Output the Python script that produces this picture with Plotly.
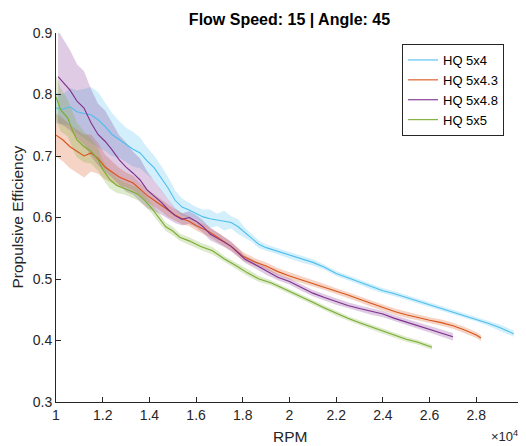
import plotly.graph_objects as go

# ---------------- data ----------------
series_names = ["HQ 5x4", "HQ 5x4.3", "HQ 5x4.8", "HQ 5x5"]

rpm_5x4 = [10000, 10300, 10600, 10900, 11200, 11500, 11800, 12100, 12400, 12700,
           13000, 13300, 13600, 13900, 14200, 14500, 14800, 15100, 15400, 15700,
           16000, 16300, 16600, 16900, 17200, 17500, 17800, 18100, 18400, 18700,
           19000, 19500, 20000, 20500, 21000, 21500, 22000, 22500, 23000, 23500,
           24000, 24500, 25000, 25500, 26000, 26500, 27000, 27500, 28000, 28500,
           29000, 29300, 29600]
eff_5x4 = [0.778, 0.776, 0.780, 0.772, 0.769, 0.767, 0.759, 0.748, 0.735, 0.727,
           0.718, 0.711, 0.705, 0.692, 0.681, 0.664, 0.648, 0.628, 0.617, 0.612,
           0.607, 0.601, 0.598, 0.596, 0.595, 0.592, 0.585, 0.575, 0.566, 0.556,
           0.551, 0.545, 0.539, 0.533, 0.527, 0.519, 0.509, 0.502, 0.495, 0.487,
           0.481, 0.476, 0.470, 0.464, 0.458, 0.453, 0.447, 0.441, 0.435, 0.428,
           0.421, 0.416, 0.411]
band_5x4 = [0.025, 0.025, 0.030, 0.035, 0.040, 0.045, 0.045, 0.040, 0.035, 0.030,
            0.028, 0.028, 0.025, 0.022, 0.020, 0.020, 0.018, 0.016, 0.014, 0.012,
            0.010, 0.012, 0.015, 0.010, 0.016, 0.010, 0.012, 0.008, 0.006, 0.006,
            0.005, 0.005, 0.005, 0.006, 0.005, 0.004, 0.004, 0.004, 0.004, 0.004,
            0.004, 0.004, 0.004, 0.004, 0.004, 0.004, 0.004, 0.004, 0.004, 0.004,
            0.005, 0.005, 0.005]

rpm_5x43 = [10000, 10300, 10600, 10900, 11200, 11500, 11800, 12100, 12400, 12700,
            13000, 13300, 13600, 13900, 14200, 14500, 14800, 15100, 15400, 15700,
            16000, 16500, 17000, 17500, 18000, 18500, 19000, 19500, 20000, 20500,
            21000, 21500, 22000, 22500, 23000, 23500, 24000, 24500, 25000, 25500,
            26000, 26500, 27000, 27500, 28000, 28200]
eff_5x43 = [0.734, 0.726, 0.715, 0.707, 0.700, 0.705, 0.696, 0.682, 0.674, 0.666,
            0.661, 0.656, 0.646, 0.636, 0.628, 0.620, 0.611, 0.604, 0.598, 0.594,
            0.587, 0.578, 0.566, 0.553, 0.537, 0.528, 0.521, 0.512, 0.505, 0.499,
            0.493, 0.487, 0.480, 0.474, 0.467, 0.460, 0.453, 0.447, 0.442, 0.437,
            0.433, 0.429, 0.424, 0.417, 0.409, 0.404]
band_5x43 = [0.035, 0.035, 0.035, 0.035, 0.035, 0.030, 0.025, 0.020, 0.018, 0.015,
             0.012, 0.012, 0.010, 0.010, 0.010, 0.010, 0.010, 0.009, 0.009, 0.008,
             0.008, 0.008, 0.008, 0.007, 0.007, 0.006, 0.006, 0.006, 0.006, 0.006,
             0.005, 0.005, 0.005, 0.005, 0.005, 0.005, 0.005, 0.005, 0.005, 0.005,
             0.005, 0.005, 0.005, 0.005, 0.005, 0.005]

rpm_5x48 = [10090, 10300, 10600, 10900, 11200, 11500, 11800, 12100, 12400, 12700,
            13000, 13300, 13600, 13900, 14200, 14500, 14800, 15100, 15400, 15700,
            16000, 16300, 16600, 16900, 17200, 17500, 17800, 18100, 18500, 19000,
            19500, 20000, 20500, 21000, 21500, 22000, 22500, 23000, 23500, 24000,
            24500, 25000, 25500, 26000, 26500, 27000]
eff_5x48 = [0.829, 0.820, 0.807, 0.789, 0.778, 0.754, 0.735, 0.724, 0.710, 0.694,
            0.682, 0.672, 0.661, 0.645, 0.635, 0.625, 0.613, 0.603, 0.597, 0.600,
            0.594, 0.585, 0.573, 0.567, 0.560, 0.553, 0.543, 0.532, 0.524, 0.513,
            0.503, 0.496, 0.486, 0.477, 0.470, 0.463, 0.457, 0.452, 0.447, 0.443,
            0.436, 0.430, 0.424, 0.418, 0.412, 0.406]
band_5x48 = [0.075, 0.070, 0.065, 0.060, 0.060, 0.055, 0.050, 0.050, 0.045, 0.040,
             0.040, 0.035, 0.035, 0.030, 0.025, 0.020, 0.015, 0.012, 0.010, 0.010,
             0.010, 0.010, 0.010, 0.009, 0.008, 0.008, 0.007, 0.006, 0.006, 0.006,
             0.005, 0.005, 0.005, 0.005, 0.005, 0.005, 0.005, 0.005, 0.005, 0.005,
             0.005, 0.005, 0.005, 0.005, 0.005, 0.006]

rpm_5x5 = [10000, 10200, 10500, 10700, 10900, 11200, 11500, 11800, 12000, 12300,
           12600, 12900, 13200, 13500, 13800, 14100, 14400, 14700, 15000, 15300,
           15700, 16200, 16700, 17200, 17700, 18200, 18700, 19200, 19600, 20000,
           20500, 21000, 21500, 22000, 22500, 23000, 23500, 24000, 24500, 25000,
           25500, 26100]
eff_5x5 = [0.796, 0.775, 0.762, 0.742, 0.726, 0.715, 0.708, 0.694, 0.678, 0.662,
           0.652, 0.648, 0.643, 0.638, 0.628, 0.615, 0.600, 0.585, 0.578, 0.568,
           0.562, 0.553, 0.546, 0.533, 0.522, 0.510, 0.500, 0.494, 0.487, 0.480,
           0.472, 0.462, 0.453, 0.444, 0.436, 0.429, 0.422, 0.415, 0.408, 0.402,
           0.397, 0.389]
band_5x5 = [0.035, 0.035, 0.030, 0.030, 0.028, 0.025, 0.020, 0.018, 0.015, 0.015,
            0.012, 0.010, 0.010, 0.010, 0.009, 0.008, 0.008, 0.007, 0.007, 0.006,
            0.006, 0.006, 0.006, 0.005, 0.005, 0.005, 0.005, 0.004, 0.004, 0.004,
            0.004, 0.004, 0.004, 0.004, 0.004, 0.004, 0.004, 0.004, 0.004, 0.004,
            0.004, 0.004]

x_tick_vals = [10000, 12000, 14000, 16000, 18000, 20000, 22000, 24000, 26000, 28000, 30000]
x_tick_text = ["1", "1.2", "1.4", "1.6", "1.8", "2", "2.2", "2.4", "2.6", "2.8", "3"]
y_tick_vals = [0.3, 0.4, 0.5, 0.6, 0.7, 0.8, 0.9]
y_tick_text = ["0.3", "0.4", "0.5", "0.6", "0.7", "0.8", "0.9"]

# ---------------- figure ----------------
line_colors = ["#4DBEEE", "#D95319", "#7E2F8E", "#77AC30"]
fill_colors = ["rgba(77,190,238,0.25)", "rgba(217,83,25,0.25)",
               "rgba(126,47,142,0.25)", "rgba(119,172,48,0.25)"]

series = [(rpm_5x4, eff_5x4, band_5x4), (rpm_5x43, eff_5x43, band_5x43),
          (rpm_5x48, eff_5x48, band_5x48), (rpm_5x5, eff_5x5, band_5x5)]

fig = go.Figure()
for (x, y, b), fc in zip(series, fill_colors):
    upper = [v + w for v, w in zip(y, b)]
    lower = [v - w for v, w in zip(y, b)]
    fig.add_trace(go.Scatter(x=x + x[::-1], y=upper + lower[::-1], fill="toself",
                             fillcolor=fc, line=dict(width=0), mode="lines",
                             hoverinfo="skip", showlegend=False))
for (x, y, b), name, lc in zip(series, series_names, line_colors):
    fig.add_trace(go.Scatter(x=x, y=y, mode="lines", name=name,
                             line=dict(color=lc, width=1.1)))

axis_color = "#262626"
font_family = "Liberation Sans, Arial, sans-serif"

# The page body has an 8px margin, so the figure is sized 8px smaller each way.
FIG_W, FIG_H = 518, 438

fig.update_layout(
    width=FIG_W, height=FIG_H,
    margin=dict(l=48, r=3, t=25, b=44),
    paper_bgcolor="white", plot_bgcolor="white",
    font=dict(family=font_family, color=axis_color, size=14),
    title=dict(text="<b>Flow Speed: 15 | Angle: 45</b>", x=0.5, xref="paper",
               y=1 - 11 / FIG_H, yanchor="middle", xanchor="center",
               font=dict(size=16, color="black")),
    showlegend=True,
    legend=dict(x=(402 - 56) / 467, y=(402 - 44) / 369, xanchor="left", yanchor="top",
                bgcolor="white", bordercolor=axis_color, borderwidth=1,
                font=dict(size=13, color="black"), tracegroupgap=0),
    xaxis=dict(range=[10000, 30000], tickvals=x_tick_vals, ticktext=x_tick_text,
               showgrid=False, zeroline=False, showline=True, linecolor=axis_color,
               linewidth=1, ticks="inside", ticklen=5, tickcolor=axis_color,
               tickfont=dict(size=14, color=axis_color)),
    yaxis=dict(range=[0.3, 0.9], tickvals=y_tick_vals, ticktext=y_tick_text,
               showgrid=False, zeroline=False, showline=True, linecolor=axis_color,
               linewidth=1, ticks="inside", ticklen=5, tickcolor=axis_color,
               tickfont=dict(size=14, color=axis_color)),
    annotations=[
        dict(text="RPM", xref="paper", yref="paper", x=0.5, y=(402 - 436) / 369,
             showarrow=False, xanchor="center", yanchor="middle",
             font=dict(size=15.5, color=axis_color)),
        dict(text="Propulsive Efficiency", xref="paper", yref="paper",
             x=(17 - 56) / 467, y=0.5, textangle=-90, showarrow=False,
             xanchor="center", yanchor="middle", font=dict(size=15.5, color=axis_color)),
        dict(text="\u00d710<sup>4</sup>", xref="paper", yref="paper",
             x=(520 - 56) / 467, y=(402 - 436) / 369, showarrow=False,
             xanchor="right", yanchor="middle", font=dict(size=13, color=axis_color)),
    ],
)

fig.write_html("out.html")
